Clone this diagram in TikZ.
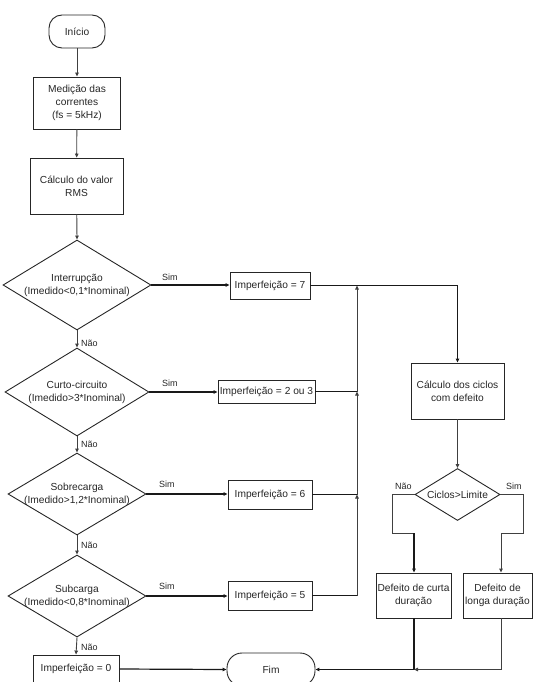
\documentclass[tikz,border=0pt]{standalone}
\usepackage{fontspec}
\setmainfont{Liberation Sans}
\usetikzlibrary{shapes.geometric,arrows.meta}
\begin{document}
\begin{tikzpicture}[x=1pt,y=-1pt,
  font=\fontsize{10.2}{13}\selectfont,
  every node/.style={text=black!85},
  box/.style={draw=black!85, line width=0.9pt, rectangle, inner sep=0pt, align=center},
  term/.style={box, rounded corners=13pt},
  dia/.style={draw=black!85, line width=0.9pt, diamond, inner sep=0pt},
  lbl/.style={font=\fontsize{9}{11}\selectfont, inner sep=0pt, anchor=south west},
  conn/.style={draw=black!75, line width=0.9pt},
  thick conn/.style={draw=black!90, line width=1.2pt},
  arr/.style={conn, -{Triangle[length=4pt,width=3.5pt]}},
  tarr/.style={thick conn, -{Triangle[length=4pt,width=3.5pt]}}
]
\useasboundingbox (0,0) rectangle (544,682);
\clip (0,0) rectangle (544,682);

% left column
\node[term, minimum width=56, minimum height=33] (inicio) at (77,31.5) {Início};
\node[box, minimum width=87, minimum height=52] (med) at (77,103) {Medição das\\correntes\\(fs = 5kHz)};
\node[box, minimum width=93, minimum height=56] (rms) at (76.5,186) {Cálculo do valor\\RMS};

\node[dia, minimum width=148, minimum height=90] (d1) at (77,285) {};
\node[align=center, inner sep=0pt] (t1) at (d1.center) {Interrupção\\(Imedido<0,1*Inominal)};
\node[dia, minimum width=144, minimum height=88] (d2) at (77,392) {};
\node[align=center, inner sep=0pt] (t2) at (d2.center) {Curto-circuito\\(Imedido>3*Inominal)};
\node[dia, minimum width=138, minimum height=82] (d3) at (77,494) {};
\node[align=center, inner sep=0pt] (t3) at (d3.center) {Sobrecarga\\(Imedido>1,2*Inominal)};
\node[dia, minimum width=138, minimum height=82] (d4) at (77,596) {};
\node[align=center, inner sep=0pt] (t4) at (d4.center) {Subcarga\\(Imedido<0,8*Inominal)};

\node[box, minimum width=86, minimum height=28] (imp0) at (76,669) {Imperfeição = 0};
\node[term, minimum width=88, minimum height=33, rounded corners=15pt] (fim) at (271,669.5) {Fim};

% imperfection boxes
\node[box, minimum width=80, minimum height=27] (imp7) at (270,285.5) {Imperfeição = 7};
\node[box, minimum width=97, minimum height=23] (imp23) at (266.5,391.5) {Imperfeição = 2 ou 3};
\node[box, minimum width=84, minimum height=29] (imp6) at (270,494.5) {Imperfeição = 6};
\node[box, minimum width=84, minimum height=29] (imp5) at (270,595.5) {Imperfeição = 5};

% right column
\node[box, minimum width=93, minimum height=56] (ciclos) at (457.5,391) {Cálculo dos ciclos\\com defeito};
\node[dia, minimum width=85, minimum height=52] (dd) at (457.5,494.5) {};
\node[inner sep=0pt] (tdd) at (dd.center) {Ciclos>Limite};
\node[box, minimum width=75, minimum height=45] (curta) at (413.5,595.5) {Defeito de curta\\duração};
\node[box, minimum width=69, minimum height=45] (longa) at (497.5,595.5) {Defeito de\\longa duração};

% coordinates
\coordinate (c7) at (357,285.5);
\coordinate (c23) at (357,391.5);
\coordinate (c6) at (357,494.5);
\coordinate (nl) at (392,533);
\coordinate (nr) at (414,533);
\coordinate (sl) at (523,533);
\coordinate (sr) at (501,533);
\coordinate (jb) at (414,669.5);
\coordinate (jl) at (501,669.5);

% main chain
\draw[arr] (inicio) -- (med);
\draw[arr] (med) -- (rms);
\draw[arr] (rms) -- (d1.north);
\draw[arr] (d1.south) -- (d2.north);
\draw[arr] (d2.south) -- (d3.north);
\draw[arr] (d3.south) -- (d4.north);
\draw[arr] (d4.south) -- (imp0.north);

\draw[tarr] (d1.east) -- (imp7.west |- d1.east);
\draw[tarr] (d2.east) -- (imp23.west |- d2.east);
\draw[tarr] (d3.east) -- (imp6.west |- d3.east);
\draw[tarr] (d4.east) -- (imp5.west |- d4.east);

% collector
\draw[thick conn] (imp5.east) -- (imp5.east -| c6);
\draw[arr] (imp5.east -| c6) -- (c6);
\draw[thick conn] (imp6.east) -- (c6);
\draw[arr] (c6) -- (c23);
\draw[thick conn] (imp23.east) -- (c23);
\draw[arr] (c23) -- (c7);
\draw[tarr] (imp7.east) -| (ciclos.north);

% right branch
\draw[arr] (ciclos) -- (dd.north);
\draw[conn] (dd.west) -| (nl) -- (nr);
\draw[tarr] (nr) -- (nr |- curta.north);
\draw[conn] (dd.east) -| (sl) -- (sr);
\draw[arr] (sr) -- (sr |- longa.north);

% to end
\draw[thick conn] (curta.south -| jb) -- (jb);
\draw[arr] (longa.south -| jl) -- (jl) -- (jb);
\draw[tarr] (jb) -- (fim.east);
\draw[tarr] (imp0.east) -- (fim.west);

% labels
\node[lbl] (s1) at (162,281) {Sim};
\node[lbl] (s2) at (162,387) {Sim};
\node[lbl] (s3) at (159,488) {Sim};
\node[lbl] (s4) at (159,590) {Sim};
\node[lbl] (n1) at (81,347) {Não};
\node[lbl] (n2) at (81,448) {Não};
\node[lbl] (n3) at (81,549) {Não};
\node[lbl] (n4) at (81,651) {Não};
\node[lbl] (n5) at (395,490) {Não};
\node[lbl] (s5) at (506,490) {Sim};
\end{tikzpicture}
\end{document}
